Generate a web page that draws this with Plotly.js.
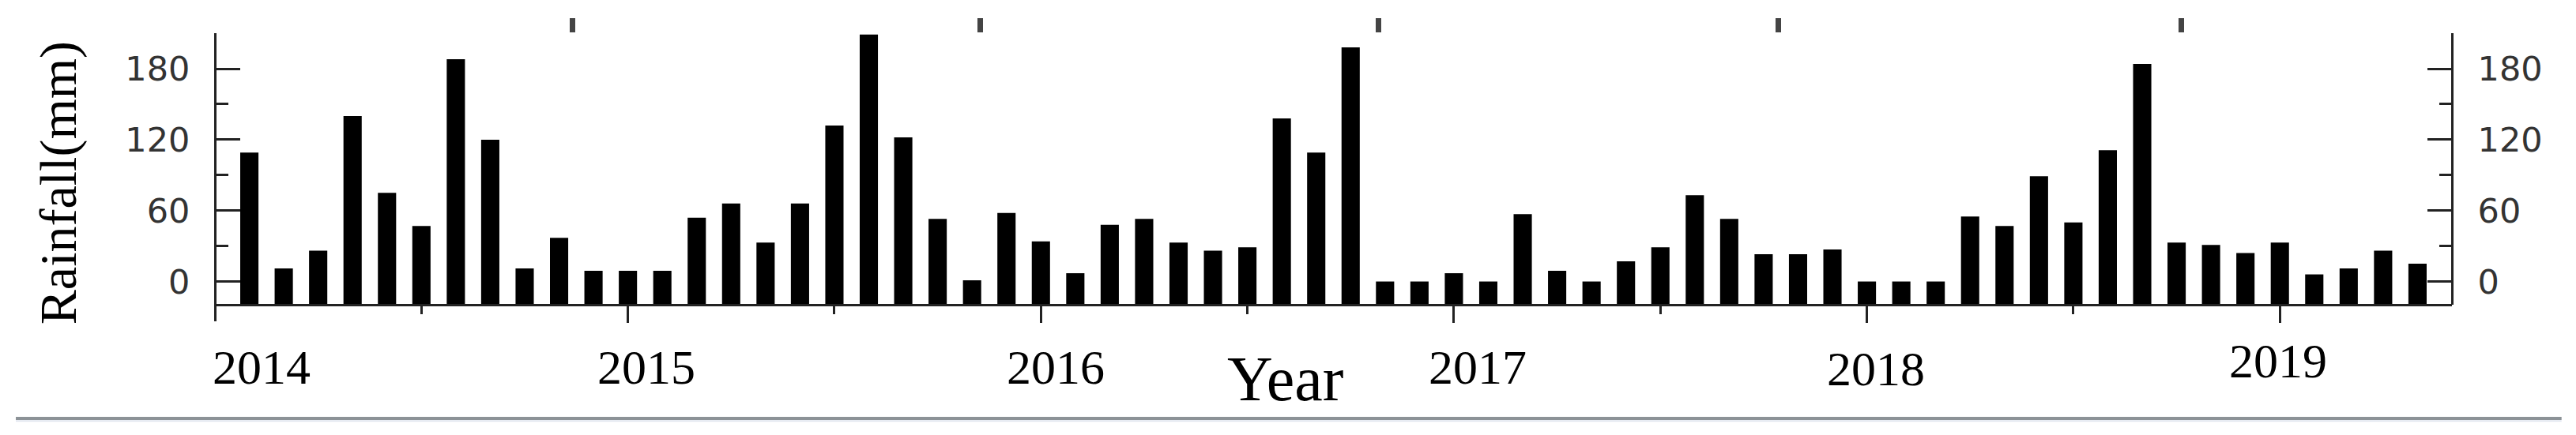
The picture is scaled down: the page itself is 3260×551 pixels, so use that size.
<!DOCTYPE html>
<html>
<head>
<meta charset="utf-8">
<script src="https://cdn.plot.ly/plotly-3.0.1.min.js"></script>
<style>
  html, body { margin: 0; padding: 0; background: #ffffff; }
  #chart { width: 3260px; height: 551px; }
</style>
</head>
<body>
<div id="chart"></div>
<script>
// ---------------- data ----------------
const yearLabels = ['2014', '2015', '2016', '2017', '2018', '2019'];
const rain2014 = [109, 11, 26, 140, 75, 47, 188, 120, 11, 37, 9, 9];
const rain2015 = [9, 54, 66, 33, 66, 132, 209, 122, 53, 1, 58, 34];
const rain2016 = [7, 48, 53, 33, 26, 29, 138, 109, 198, 0, 0, 7];
const rain2017 = [0, 57, 9, 0, 17, 29, 73, 53, 23, 23, 27, 0];
const rain2018 = [0, 0, 55, 47, 89, 50, 111, 184, 33, 31, 24, 33];
const rain2019 = [6, 11, 26, 15];
const yTickVals = [0, 60, 120, 180];
const yTickText = ['0', '60', '120', '180'];
const yMinorVals = [30, 90, 150, 210];
const xMajorTicks = [12, 24, 36, 48, 60];
const xMinorTicks = [6, 18, 30, 42, 54];
const topTickPos = [10.39, 22.23, 33.8, 45.43, 57.14];

// ---------------- build series ----------------
const rainfall = [].concat(rain2014, rain2015, rain2016, rain2017, rain2018, rain2019);
const monthIdx = rainfall.map((_, i) => i + 1);
const barBase = -20;                    // bars rise from the x-axis line at -20
const yRange = [-33.7, 210.1];
const xRange = [0, 65];
const axisPos = (barBase - yRange[0]) / (yRange[1] - yRange[0]);

// label placement (layout only)
const yearLabelX = [1.35, 12.53, 24.43, 36.7, 48.26, 59.96];
const yearLabelY = [-0.159, -0.159, -0.159, -0.159, -0.164, -0.138];

const ink = '#222222';
const tickFont = { family: 'DejaVu Sans, Liberation Sans, Arial, sans-serif', size: 43, color: '#333333' };
const serif = 'Liberation Serif, Times New Roman, serif';

const traces = [
  {
    type: 'bar',
    x: monthIdx,
    y: rainfall.map(v => v - barBase),
    base: barBase,
    customdata: rainfall,
    hovertemplate: '%{customdata} mm<extra></extra>',
    width: 0.53,
    marker: { color: '#000000', line: { width: 0 } },
    xaxis: 'x', yaxis: 'y'
  },
  {
    type: 'scatter',
    mode: 'markers',
    x: [32], y: [-100],
    marker: { opacity: 0, size: 1 },
    hoverinfo: 'skip',
    showlegend: false,
    xaxis: 'x2', yaxis: 'y2'
  }
];

const yCommon = {
  tickmode: 'array', tickvals: yTickVals, ticktext: yTickText,
  ticks: 'inside', ticklen: 30, tickwidth: 3, tickcolor: ink,
  showline: true, linewidth: 3, linecolor: ink,
  showgrid: false, zeroline: false, fixedrange: true,
  tickfont: tickFont, ticklabelstandoff: 22,
  minor: { tickmode: 'array', tickvals: yMinorVals, ticks: 'inside', ticklen: 15, tickwidth: 3, tickcolor: ink, showgrid: false }
};

const annotations = yearLabels.map((t, i) => ({
  text: t, xref: 'x', yref: 'paper', x: yearLabelX[i], y: yearLabelY[i],
  xanchor: 'center', yanchor: 'middle', showarrow: false,
  font: { family: serif, size: 62, color: '#000000' }
}));
annotations.push({
  text: 'Year', xref: 'x', yref: 'paper', x: 31.1, y: -0.2,
  xanchor: 'center', yanchor: 'middle', showarrow: false,
  font: { family: serif, size: 80, color: '#000000' }
});
annotations.push({
  text: 'Rainfall(mm)', xref: 'paper', yref: 'paper', x: 0, xshift: -198, y: 0.479,
  xanchor: 'center', yanchor: 'middle', textangle: -90, showarrow: false,
  font: { family: serif, size: 66, color: '#000000' }
});

const layout = {
  width: 3260, height: 551,
  margin: { l: 272, r: 157, t: 42, b: 144, pad: 0 },
  paper_bgcolor: '#ffffff', plot_bgcolor: 'rgba(0,0,0,0)',
  showlegend: false,
  xaxis: {
    domain: [0, 1],
    range: xRange, anchor: 'free', position: axisPos,
    showline: true, linewidth: 3, linecolor: ink,
    tickmode: 'array', tickvals: xMajorTicks, showticklabels: false,
    ticks: 'outside', ticklen: 21, tickwidth: 3, tickcolor: ink,
    minor: { tickmode: 'array', tickvals: xMinorTicks, ticks: 'outside', ticklen: 10, tickwidth: 3, tickcolor: ink, showgrid: false },
    showgrid: false, zeroline: false, fixedrange: true
  },
  yaxis: Object.assign({}, yCommon, {
    range: yRange, domain: [0, 1], anchor: 'free', position: 0, side: 'left'
  }),
  xaxis2: {
    domain: [0, 1],
    range: xRange, anchor: 'y2', side: 'top',
    tickmode: 'array', tickvals: topTickPos, showticklabels: false,
    ticks: 'outside', ticklen: 18, tickwidth: 7, tickcolor: '#444444',
    showline: false, showgrid: false, zeroline: false, fixedrange: true
  },
  yaxis2: Object.assign({}, yCommon, {
    range: [barBase, yRange[1]], domain: [axisPos, 1],
    anchor: 'free', position: 1, side: 'right'
  }),
  annotations: annotations,
  shapes: [
    { type: 'line', xref: 'paper', yref: 'paper', x0: -0.089, x1: 1.049, y0: -0.337, y1: -0.337,
      line: { color: '#8c9297', width: 4 } },
    { type: 'line', xref: 'paper', yref: 'paper', x0: -0.089, x1: 1.049, y0: -0.346, y1: -0.346,
      line: { color: '#e2e7f0', width: 2 } }
  ]
};

Plotly.newPlot('chart', traces, layout, { staticPlot: true, displayModeBar: false });
</script>
</body>
</html>
